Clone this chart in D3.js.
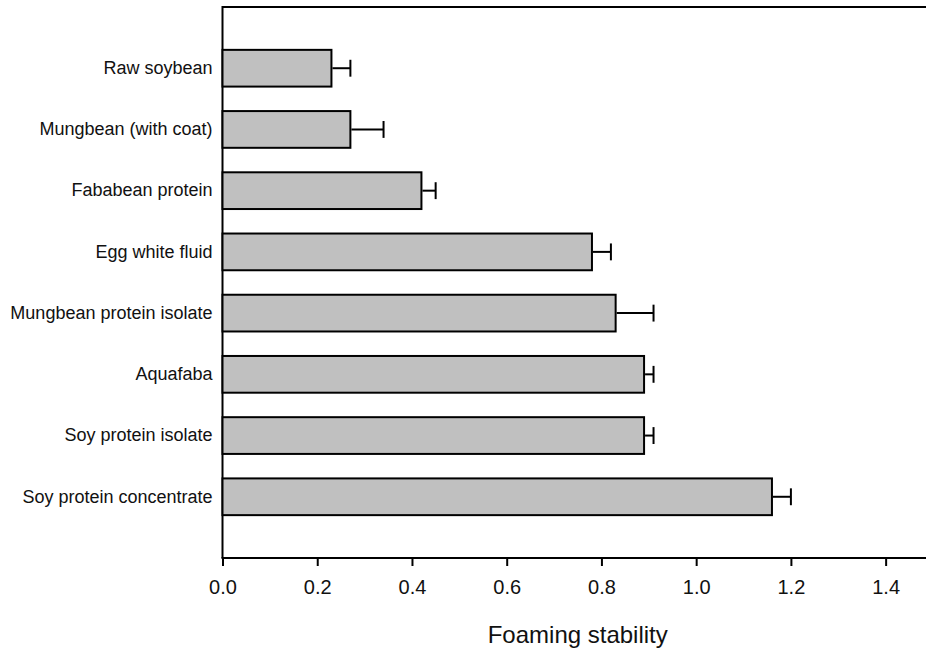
<!DOCTYPE html>
<html>
<head>
<meta charset="utf-8">
<script src="https://cdn.jsdelivr.net/npm/d3@7"></script>
<style>
  body { margin: 0; background: #fff; }
  svg { display: block; font-family: "Liberation Sans", Arial, sans-serif; }
</style>
</head>
<body>
<svg id="chart" width="926" height="650"></svg>
<script>
// data
const categories = [
  'Raw soybean',
  'Mungbean (with coat)',
  'Fababean protein',
  'Egg white fluid',
  'Mungbean protein isolate',
  'Aquafaba',
  'Soy protein isolate',
  'Soy protein concentrate'
];
const values = [0.23, 0.27, 0.42, 0.78, 0.83, 0.89, 0.89, 1.16];
const errors = [0.04, 0.07, 0.03, 0.04, 0.08, 0.02, 0.02, 0.04];
const xTicks = [0, 0.2, 0.4, 0.6, 0.8, 1.0, 1.2, 1.4];

const margin = { top: 7, right: -7, bottom: 92, left: 222.5 };
const width = 926 - margin.left - margin.right;
const height = 650 - margin.top - margin.bottom;

const data = categories.map((c, i) => ({ name: c, value: values[i], err: errors[i] }));

const svg = d3.select('#chart');
const g = svg.append('g')
    .attr('transform', `translate(${margin.left}, ${margin.top})`);

// scales

const x = d3.scaleLinear()
    .domain([0, 1.5])
    .range([0, width]);

const y = d3.scaleBand()
    .domain(categories)
    .range([0, height])
    .paddingInner(0.4)
    .paddingOuter(0.7);

// frame (top line; right side falls outside the window)
g.append('path')
    .attr('d', `M0,${height}V0H${width}V${height}`)
    .attr('fill', 'none')
    .attr('stroke', 'black')
    .attr('stroke-width', 2);

// bars

g.append('g')
    .attr('class', 'bars')
  .selectAll('rect')
  .data(data)
  .join('rect')
    .attr('x', x(0))
    .attr('y', d => y(d.name))
    .attr('width', d => x(d.value) - x(0))
    .attr('height', y.bandwidth())
    .attr('fill', '#c0c0c0')
    .attr('stroke', 'black')
    .attr('stroke-width', 2);

// error bars

const capHalf = y.bandwidth() * 0.23;
const err = g.append('g')
    .attr('class', 'errors')
  .selectAll('g')
  .data(data)
  .join('g')
    .attr('transform', d => `translate(0, ${y(d.name) + y.bandwidth() / 2})`);

err.append('line')
    .attr('x1', d => x(d.value) + 1)
    .attr('x2', d => x(d.value + d.err))
    .attr('stroke', 'black')
    .attr('stroke-width', 2);

err.append('line')
    .attr('x1', d => x(d.value + d.err))
    .attr('x2', d => x(d.value + d.err))
    .attr('y1', -capHalf)
    .attr('y2', capHalf)
    .attr('stroke', 'black')
    .attr('stroke-width', 2);

// axes

const xAxis = d3.axisBottom(x)
    .tickValues(xTicks)
    .tickFormat(d3.format('.1f'))
    .tickSize(8)
    .tickPadding(14);

g.append('g')
    .attr('class', 'x axis')
    .attr('transform', `translate(0, ${height})`)
    .call(xAxis)
    .call(s => s.select('.domain').remove())
    .call(s => s.selectAll('.tick line').attr('stroke-width', 2))
    .call(s => s.selectAll('.tick text')
        .attr('font-size', 20)
        .attr('fill', '#111'));

g.append('line')
    .attr('x1', -1)
    .attr('x2', width)
    .attr('y1', height)
    .attr('y2', height)
    .attr('stroke', 'black')
    .attr('stroke-width', 2);

const yAxis = d3.axisLeft(y)
    .tickSize(0)
    .tickPadding(10);

g.append('g')
    .attr('class', 'y axis')
    .call(yAxis)
    .call(s => s.select('.domain').remove())
    .call(s => s.selectAll('.tick text')
        .attr('font-size', 18)
        .attr('fill', '#111'));

// axis title
g.append('text')
    .attr('x', width / 2)
    .attr('y', height + 85)
    .attr('text-anchor', 'middle')
    .attr('font-size', 24)
    .attr('fill', '#111')
    .text('Foaming stability');
</script>
</body>
</html>
